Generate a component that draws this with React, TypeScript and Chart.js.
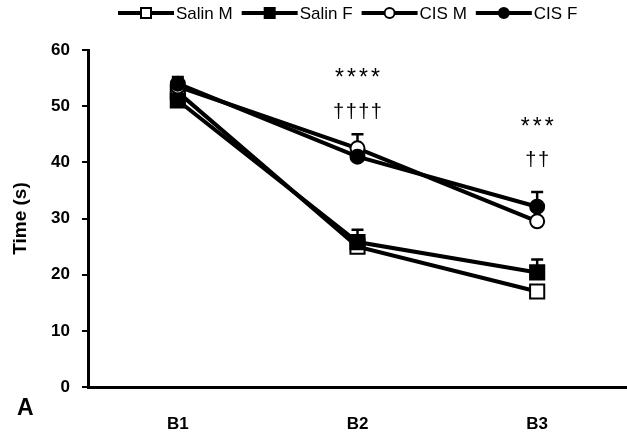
import React, { useEffect, useRef } from "react";
import { Chart, registerables } from "chart.js";

Chart.register(...registerables);

const categories = ["B1", "B2", "B3"];
const seriesNames = ["Salin M", "Salin F", "CIS M", "CIS F"];
const salinM = [52.5, 25.0, 17.0];
const salinF = [51.0, 25.8, 20.4];
const cisM = [53.5, 42.5, 29.5];
const cisF = [54.0, 41.0, 32.1];
const salinMErr = [1.5, 1.0, 0.8];
const salinFErr = [1.5, 2.2, 2.3];
const cisMErr = [1.2, 2.5, 0.6];
const cisFErr = [1.2, 1.5, 2.6];
const yMin = 0;
const yMax = 60;
const yStep = 10;
const yTitle = "Time (s)";
const panelLabel = "A";
const annotCats = ["B2", "B2", "B3", "B3"];
const annotTexts = ["****", "††††", "***", "††"];
const annotValues = [55.4, 48.8, 46.7, 40.3];

const FONT = "'Liberation Sans', Arial, sans-serif";

const allValues = [salinM, salinF, cisM, cisF];
const allErrs = [salinMErr, salinFErr, cisMErr, cisFErr];
const styles = [
  { style: "rect", fill: "#ffffff", r: 10 },
  { style: "rect", fill: "#000000", r: 10 },
  { style: "circle", fill: "#ffffff", r: 7 },
  { style: "circle", fill: "#000000", r: 7 },
];

function drawMarker(ctx: CanvasRenderingContext2D, style: string, fill: string, x: number, y: number, size: number) {
  ctx.save();
  ctx.fillStyle = fill;
  ctx.strokeStyle = "#000";
  ctx.lineWidth = 2;
  ctx.beginPath();
  if (style === "rect") {
    ctx.rect(x - size / 2, y - size / 2, size, size);
  } else {
    ctx.arc(x, y, size / 2, 0, Math.PI * 2);
  }
  ctx.fill();
  ctx.stroke();
  ctx.restore();
}

const errorBarPlugin = {
  id: "errorBars",
  beforeDatasetsDraw(chart: any) {
    const ctx = chart.ctx;
    const y = chart.scales.y;
    ctx.save();
    ctx.strokeStyle = "#000";
    ctx.lineWidth = 2.5;
    allValues.forEach((vals, i) => {
      const meta = chart.getDatasetMeta(i);
      vals.forEach((v, j) => {
        const pt = meta.data[j];
        const y0 = y.getPixelForValue(v);
        const y1 = y.getPixelForValue(v + allErrs[i][j]);
        ctx.beginPath();
        ctx.moveTo(pt.x, y0);
        ctx.lineTo(pt.x, y1);
        ctx.moveTo(pt.x - 6, y1);
        ctx.lineTo(pt.x + 6, y1);
        ctx.stroke();
      });
    });
    ctx.restore();
  },
};

const decorPlugin = {
  id: "decor",
  afterDraw(chart: any) {
    const ctx = chart.ctx as CanvasRenderingContext2D;
    const xs = chart.scales.x;
    const ys = chart.scales.y;
    const area = chart.chartArea;
    ctx.save();
    ctx.fillStyle = "#000";
    ctx.textAlign = "center";
    ctx.textBaseline = "middle";
    // x category labels
    ctx.font = `bold 17px ${FONT}`;
    categories.forEach((c, i) => {
      ctx.fillText(c, xs.getPixelForValue(i), area.bottom + 37);
    });
    // annotations
    annotTexts.forEach((t, i) => {
      const idx = categories.indexOf(annotCats[i]);
      const px = xs.getPixelForValue(idx);
      const py = ys.getPixelForValue(annotValues[i]);
      const star = t.indexOf("*") >= 0;
      ctx.font = star ? `23px ${FONT}` : `20px ${FONT}`;
      const sp = star ? 3 : 1.5;
      (ctx as any).letterSpacing = `${sp}px`;
      ctx.fillText(t, px + sp / 2, py + (star ? 3 : 0));
    });
    (ctx as any).letterSpacing = "0px";
    // y title
    ctx.save();
    ctx.translate(21, (area.top + area.bottom) / 2);
    ctx.rotate(-Math.PI / 2);
    ctx.font = `bold 19px ${FONT}`;
    ctx.fillText(yTitle, 0, 0);
    ctx.restore();
    // panel label
    ctx.font = `bold 23px ${FONT}`;
    ctx.textAlign = "left";
    ctx.fillText(panelLabel, 17, 409);
    // legend
    ctx.font = `17px ${FONT}`;
    let x = 118;
    const ly = 13;
    seriesNames.forEach((name, i) => {
      ctx.strokeStyle = "#000";
      ctx.lineWidth = 4;
      ctx.beginPath();
      ctx.moveTo(x, ly);
      ctx.lineTo(x + 56, ly);
      ctx.stroke();
      drawMarker(ctx, styles[i].style, styles[i].fill, x + 28, ly, 10);
      ctx.fillStyle = "#000";
      ctx.fillText(name, x + 58, ly + 1);
      x = x + 58 + ctx.measureText(name).width + 9;
    });
    ctx.restore();
  },
};

export default function App() {
  const ref = useRef<HTMLCanvasElement | null>(null);
  useEffect(() => {
    if (!ref.current) return;
    const datasets = allValues.map((vals, i) => ({
      label: seriesNames[i],
      data: vals,
      borderColor: "#000",
      borderWidth: 4,
      backgroundColor: styles[i].fill,
      pointStyle: styles[i].style,
      pointRadius: styles[i].r,
      pointBorderWidth: 2,
      pointBorderColor: "#000",
      pointBackgroundColor: styles[i].fill,
      tension: 0,
      order: 3 - i,
      clip: false,
    }));
    const chart = new Chart(ref.current, {
      type: "line",
      data: { labels: categories, datasets },
      plugins: [errorBarPlugin, decorPlugin],
      options: {
        animation: false,
        responsive: true,
        maintainAspectRatio: false,
        layout: { autoPadding: false, padding: { top: 50, left: 0, right: 0, bottom: 0 } },
        plugins: { legend: { display: false }, tooltip: { enabled: false } },
        scales: {
          x: {
            type: "category",
            offset: true,
            grid: { display: false, drawTicks: false },
            border: { display: true, color: "#000", width: 3 },
            ticks: { display: false },
            afterFit(scale: any) {
              scale.height = 51;
            },
          },
          y: {
            min: yMin,
            max: yMax,
            grid: { drawOnChartArea: false, drawTicks: true, tickLength: 6, color: "#000", lineWidth: 2 },
            border: { display: true, color: "#000", width: 3 },
            ticks: { stepSize: yStep, color: "#000", font: { family: FONT, size: 17, weight: "bold" }, padding: 12 },
            afterFit(scale: any) {
              scale.width = 88;
            },
          },
        },
      },
    });
    return () => chart.destroy();
  }, []);
  return (
    <div style={{ position: "absolute", left: 0, top: 0, width: 627, height: 438, background: "#fff" }}>
      <canvas ref={ref} />
    </div>
  );
}
